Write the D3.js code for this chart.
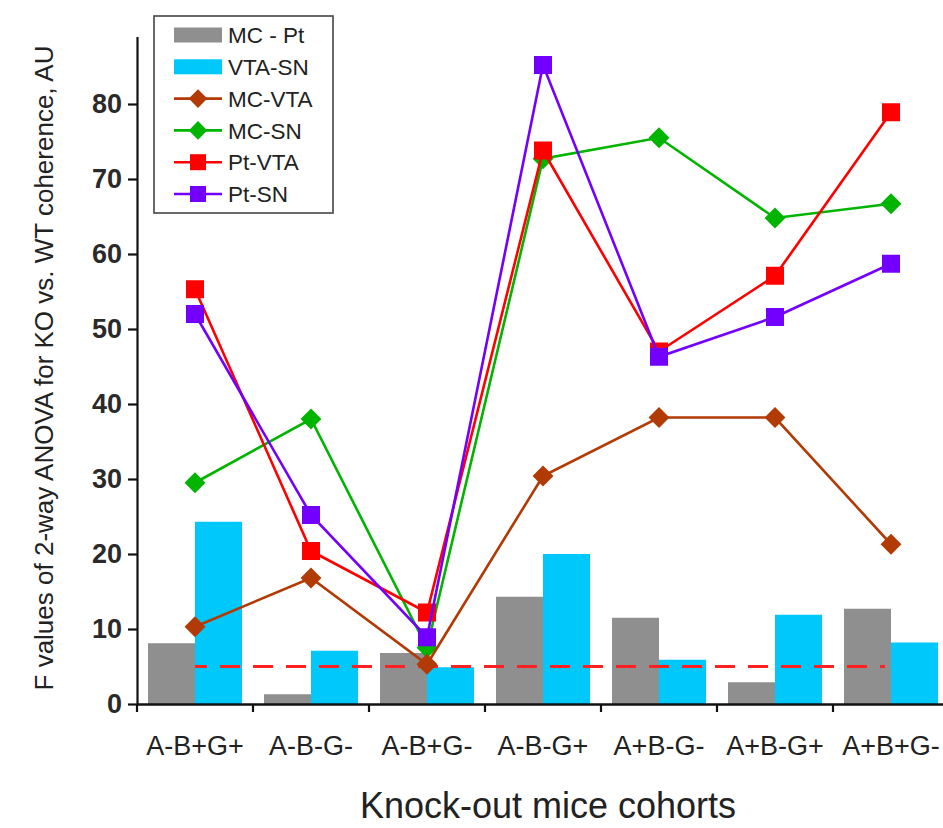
<!DOCTYPE html>
<html>
<head>
<meta charset="utf-8">
<script src="https://cdn.jsdelivr.net/npm/d3@7"></script>
<style>
  html, body { margin: 0; padding: 0; background: #fff; }
  svg { display: block; font-family: "Liberation Sans", Arial, sans-serif; }
</style>
</head>
<body>
<svg id="chart" width="943" height="828"></svg>
<script>
// ---- data ----
const categories = ["A-B+G+", "A-B-G-", "A-B+G-", "A-B-G+", "A+B-G-", "A+B-G+", "A+B+G-"];
const mcPt   = [8.1, 1.3, 6.8, 14.3, 11.5, 2.9, 12.7];
const vtaSn  = [24.3, 7.1, 4.9, 20.0, 5.9, 11.9, 8.2];
const mcVta  = [10.3, 16.8, 5.3, 30.4, 38.2, 38.2, 21.3];
const mcSn   = [29.5, 38.0, 7.5, 72.7, 75.5, 64.8, 66.7];
const ptVta  = [55.3, 20.4, 12.2, 73.8, 47.0, 57.1, 78.9];
const ptSn   = [52.0, 25.2, 8.9, 85.2, 46.3, 51.6, 58.7];
const yTicks = [0, 10, 20, 30, 40, 50, 60, 70, 80];
const threshold = 5;
const yTitle = "F values of 2-way ANOVA for KO vs. WT coherence, AU";
const xTitle = "Knock-out mice cohorts";

const barSeries = [
  { name: "MC - Pt", values: mcPt, color: "#8f8f8f" },
  { name: "VTA-SN", values: vtaSn, color: "#00c8fa" }
];
const lineSeries = [
  { name: "MC-VTA", values: mcVta, color: "#b23a04", shape: "diamond" },
  { name: "MC-SN",  values: mcSn,  color: "#00b400", shape: "diamond" },
  { name: "Pt-VTA", values: ptVta, color: "#ff0000", shape: "square" },
  { name: "Pt-SN",  values: ptSn,  color: "#7300ff", shape: "square" }
];
// drawing order (topmost last)
const drawOrder = ["MC-SN", "MC-VTA", "Pt-VTA", "Pt-SN"];

// ---- layout ----
const svg = d3.select("#chart");
const x0 = 137, yBase = 704, pxPerUnit = 7.5;
const x = d3.scaleBand().domain(categories).range([x0, x0 + 116 * categories.length]).paddingInner(0).paddingOuter(0);
const xSub = d3.scaleBand().domain(barSeries.map(d => d.name)).range([11, 105]).padding(0);
const y = d3.scaleLinear().domain([0, 89]).range([yBase, yBase - 89 * pxPerUnit]);

// bars
barSeries.forEach(s => {
  svg.append("g").selectAll("rect").data(s.values).join("rect")
    .attr("x", (d, i) => x(categories[i]) + xSub(s.name))
    .attr("y", d => y(d))
    .attr("width", xSub.bandwidth())
    .attr("height", d => y(0) - y(d))
    .attr("fill", s.color);
});

// threshold dashed line
svg.append("line")
  .attr("x1", x(categories[0]) + x.bandwidth() / 2)
  .attr("x2", x(categories[categories.length - 1]) + x.bandwidth() / 2 - 6)
  .attr("y1", y(threshold)).attr("y2", y(threshold))
  .attr("stroke", "#ff2020").attr("stroke-width", 3)
  .attr("stroke-dasharray", "20,13").attr("stroke-dashoffset", 8);

// lines
const cx = i => x(categories[i]) + x.bandwidth() / 2;
const lineGen = d3.line().x((d, i) => cx(i)).y(d => y(d));
function drawMarker(g, shape, px, py, color, size) {
  if (shape === "square") {
    g.append("rect").attr("x", px - size / 2).attr("y", py - size / 2)
      .attr("width", size).attr("height", size).attr("fill", color);
  } else {
    const r = size * 0.58;
    g.append("path").attr("d", `M${px},${py - r}L${px + r},${py}L${px},${py + r}L${px - r},${py}Z`)
      .attr("fill", color);
  }
}
drawOrder.forEach(name => {
  const s = lineSeries.find(l => l.name === name);
  const g = svg.append("g");
  g.append("path").datum(s.values).attr("d", lineGen)
    .attr("fill", "none").attr("stroke", s.color).attr("stroke-width", 2.6);
  s.values.forEach((v, i) => drawMarker(g, s.shape, cx(i), y(v), s.color, 18));
});

// y axis
const yAxis = svg.append("g").attr("transform", `translate(${x0},0)`)
  .call(d3.axisLeft(y).tickValues(yTicks).tickSize(9).tickSizeOuter(0).tickPadding(6));
yAxis.select(".domain").attr("stroke", "#111").attr("stroke-width", 2.2);
yAxis.selectAll(".tick line").attr("stroke", "#111").attr("stroke-width", 2.2);
yAxis.selectAll(".tick text").attr("font-size", 27).attr("font-weight", "bold")
  .attr("fill", "#2a2a2a").attr("font-family", "Liberation Sans, Arial, sans-serif");

// x axis
const xAxis = svg.append("g").attr("transform", `translate(0,${yBase})`)
  .call(d3.axisBottom(x).tickSize(0).tickSizeOuter(0).tickPadding(0));
xAxis.select(".domain").attr("stroke", "#111").attr("stroke-width", 2.6);
xAxis.selectAll(".tick text").attr("font-size", 27).attr("fill", "#222")
  .attr("dy", null).attr("y", 51)
  .attr("font-family", "Liberation Sans, Arial, sans-serif");
// boundary ticks
const bounds = categories.map(c => x(c));
xAxis.selectAll("line.bt").data(bounds).join("line").attr("class", "bt")
  .attr("x1", d => d).attr("x2", d => d).attr("y1", 0).attr("y2", 8)
  .attr("stroke", "#111").attr("stroke-width", 2.2);

// axis titles
svg.append("text").attr("transform", "translate(53,368) rotate(-90)")
  .attr("text-anchor", "middle").attr("font-size", 26).attr("fill", "#222").text(yTitle);
svg.append("text").attr("x", 548).attr("y", 818)
  .attr("text-anchor", "middle").attr("font-size", 36).attr("fill", "#222").text(xTitle);

// legend
const lg = svg.append("g");
lg.append("rect").attr("x", 154).attr("y", 16).attr("width", 179).attr("height", 197)
  .attr("fill", "#fff").attr("stroke", "#444").attr("stroke-width", 1.6);
const legendItems = [...barSeries.map(s => ({ ...s, kind: "bar" })), ...lineSeries.map(s => ({ ...s, kind: "line" }))];
const rowY = d3.scaleLinear().domain([0, 5]).range([35, 194]);
legendItems.forEach((s, i) => {
  const ry = rowY(i);
  if (s.kind === "bar") {
    lg.append("rect").attr("x", 174).attr("y", ry - 7.5).attr("width", 48).attr("height", 15).attr("fill", s.color);
  } else {
    lg.append("line").attr("x1", 174).attr("x2", 222).attr("y1", ry).attr("y2", ry)
      .attr("stroke", s.color).attr("stroke-width", 2.6);
    drawMarker(lg, s.shape, 198, ry, s.color, 16);
  }
  lg.append("text").attr("x", 228).attr("y", ry).attr("dy", "0.36em")
    .attr("font-size", 22.5).attr("fill", "#222").text(s.name);
});
</script>
</body>
</html>
